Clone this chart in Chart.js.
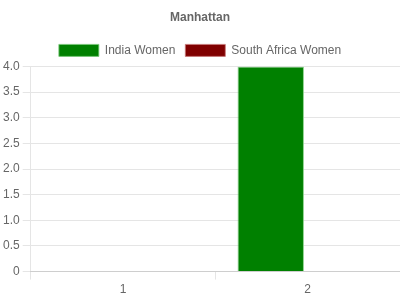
<!DOCTYPE html>
<html>
<head>
<meta charset="utf-8">
<script src="https://cdn.jsdelivr.net/npm/chart.js@4/dist/chart.umd.min.js"></script>
<style>
  html, body { margin: 0; padding: 0; background: #fff; }
  #wrap { width: 400px; height: 300px; }
</style>
</head>
<body>
<div id="wrap"><canvas id="chart"></canvas></div>
<script>
// Overs and runs per over
const overs = ['1', '2'];
const indiaWomen = [0, 4];
const southAfricaWomen = [0, 0];

Chart.defaults.font.family = '"Liberation Sans", Arial, sans-serif';
Chart.defaults.font.size = 12;
Chart.defaults.color = '#666';

new Chart(document.getElementById('chart').getContext('2d'), {
    type: 'bar',
    data: {
        labels: overs,
        datasets: [
            {
                label: 'India Women',
                data: indiaWomen,
                backgroundColor: '#008000',
                borderColor: 'rgba(120, 200, 120, 0.8)',
                borderWidth: 1,
            },
            {
                label: 'South Africa Women',
                data: southAfricaWomen,
                backgroundColor: '#800000',
                borderColor: 'rgba(200, 120, 120, 0.8)',
                borderWidth: 1,
            },
        ],
    },
    options: {
        responsive: true,
        maintainAspectRatio: false,
        animation: false,
        layout: { padding: { left: 0, right: 0, top: 0, bottom: 0 } },
        plugins: {
            title: {
                display: true,
                text: 'Manhattan',
                font: { size: 12, weight: 'bold' },
                padding: { top: 10, bottom: 10 },
            },
            legend: {
                display: true,
                position: 'top',
                labels: {
                    boxWidth: 40,
                    boxHeight: 12,
                    padding: 10,
                },
            },
            tooltip: { enabled: false },
        },
        scales: {
            x: {
                grid: {
                    drawOnChartArea: false,
                    color: 'rgba(0,0,0,0.1)',
                    offset: true,
                },
                ticks: { color: '#666' },
            },
            y: {
                min: 0,
                max: 4,
                ticks: {
                    stepSize: 0.5,
                    color: '#666',
                    callback: (v) => v === 0 ? '0' : v.toFixed(1),
                },
                grid: { color: 'rgba(0,0,0,0.1)' },
            },
        },
    },
});
</script>
</body>
</html>
